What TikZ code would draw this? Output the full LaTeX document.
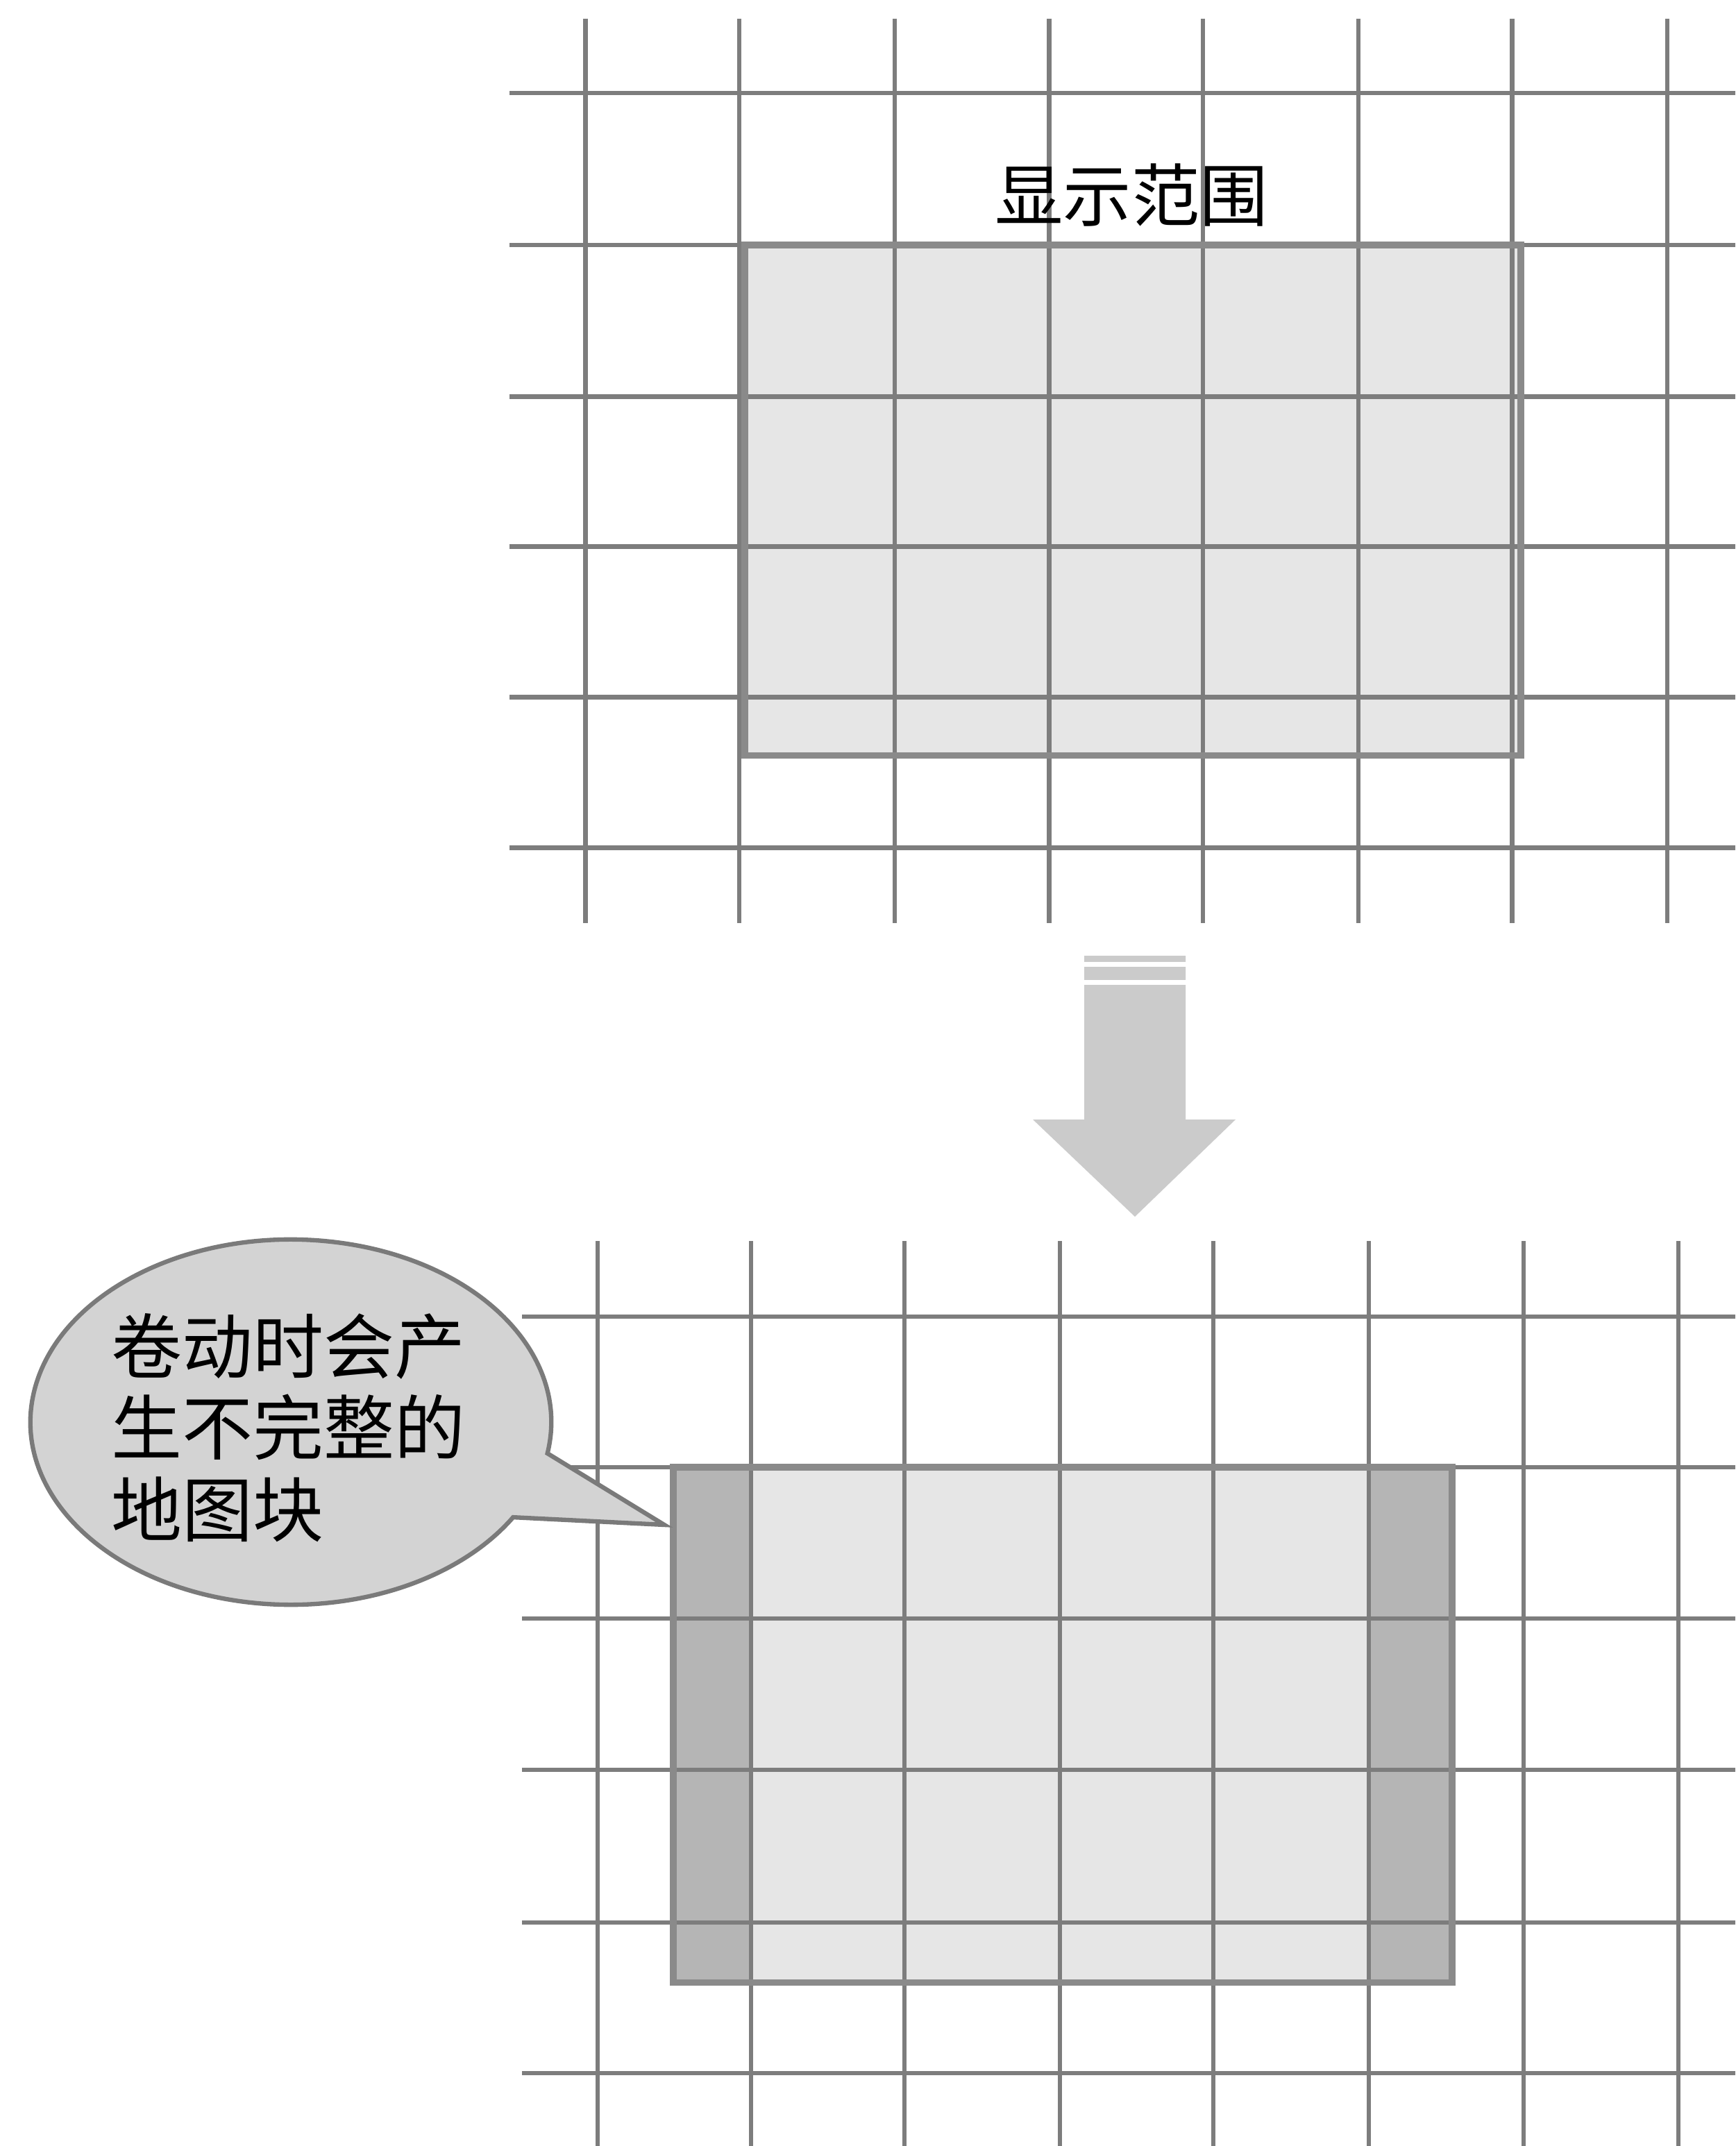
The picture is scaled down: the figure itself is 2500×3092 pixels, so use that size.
\documentclass[tikz,border=0pt]{standalone}
\usepackage{fontspec}
\newfontfamily\cjk{Noto Sans CJK SC}
\definecolor{gridgray}{HTML}{7D7D7D}
\definecolor{boxedge}{HTML}{8A8A8A}
\definecolor{boxfill}{HTML}{E6E6E6}
\definecolor{stripfill}{HTML}{B5B5B5}
\definecolor{calloutfill}{HTML}{D3D3D3}
\definecolor{calloutedge}{HTML}{7A7A7A}
\definecolor{arrowfill}{HTML}{CBCBCB}
\begin{document}
\begin{tikzpicture}[x=0.01cm,y=-0.01cm,
  gridline/.style={draw=gridgray, line width=1.9pt},
  viewedge/.style={draw=boxedge, line width=2.8pt},
  viewfill/.style={fill=boxfill, inner sep=0pt, outer sep=0pt, anchor=north west},
  stripbox/.style={fill=stripfill, inner sep=0pt, outer sep=0pt, anchor=north west},
  cjklabel/.style={font=\cjk\fontsize{28}{34}\selectfont, inner sep=0pt},
  bubble/.style={fill=calloutfill, draw=calloutedge, line width=1.8pt, line join=miter}]
\useasboundingbox[fill=white] (0,0) rectangle (2500,3092);

% ---------- top: display range ----------
\node[viewfill, minimum width=11.17cm, minimum height=7.35cm] (view1) at (1073,353) {};
\foreach \x in {843.5,1065,1289,1511.6,1733,1957,2178.6,2402}
  \draw[gridline] (\x,27) -- (\x,1330);
\foreach \y in {134,353,571.5,787.6,1004.6,1221.6}
  \draw[gridline] (734,\y) -- (2500,\y);
\draw[viewedge] (view1.north west) rectangle (view1.south east);
\node[cjklabel] (title) at (1630,281) {显示范围};

% ---------- arrow ----------
\fill[arrowfill] (1562,1377) -- (1708,1377) -- (1708,1613) -- (1780,1613)
  -- (1635,1753) -- (1488,1613) -- (1562,1613) -- cycle;
\fill[white] (1555,1386) rectangle (1715,1393);
\fill[white] (1555,1412) rectangle (1715,1419);

% ---------- bottom: scrolled view ----------
\node[viewfill, minimum width=11.21cm, minimum height=7.42cm] (view2) at (970,2114) {};
\node[stripbox, minimum width=1.15cm, minimum height=7.42cm] (leftstrip) at (970,2114) {};
\node[stripbox, minimum width=1.17cm, minimum height=7.42cm] (rightstrip) at (1974,2114) {};
\foreach \x in {861,1082,1303,1527,1748,1972,2195,2418}
  \draw[gridline] (\x,1788) -- (\x,3092);
\foreach \y in {1897,2114,2332,2550,2770,2987}
  \draw[gridline] (752,\y) -- (2500,\y);
\draw[viewedge] (view2.north west) rectangle (view2.south east);

% ---------- callout ----------
\coordinate (cc) at (419,2049);
\coordinate (tip) at (957,2197);
\draw[bubble] (cc) ++(-9.85:3.75cm and 2.63cm)
  arc[start angle=-9.85, end angle=328.6, x radius=3.75cm, y radius=2.63cm]
  -- (tip) -- cycle;
\node[align=left, anchor=west, inner sep=0pt,
  font=\cjk\fontsize{29}{33.5}\selectfont] (note) at (160,2057)
  {卷动时会产\\生不完整的\\地图块};
\end{tikzpicture}
\end{document}
